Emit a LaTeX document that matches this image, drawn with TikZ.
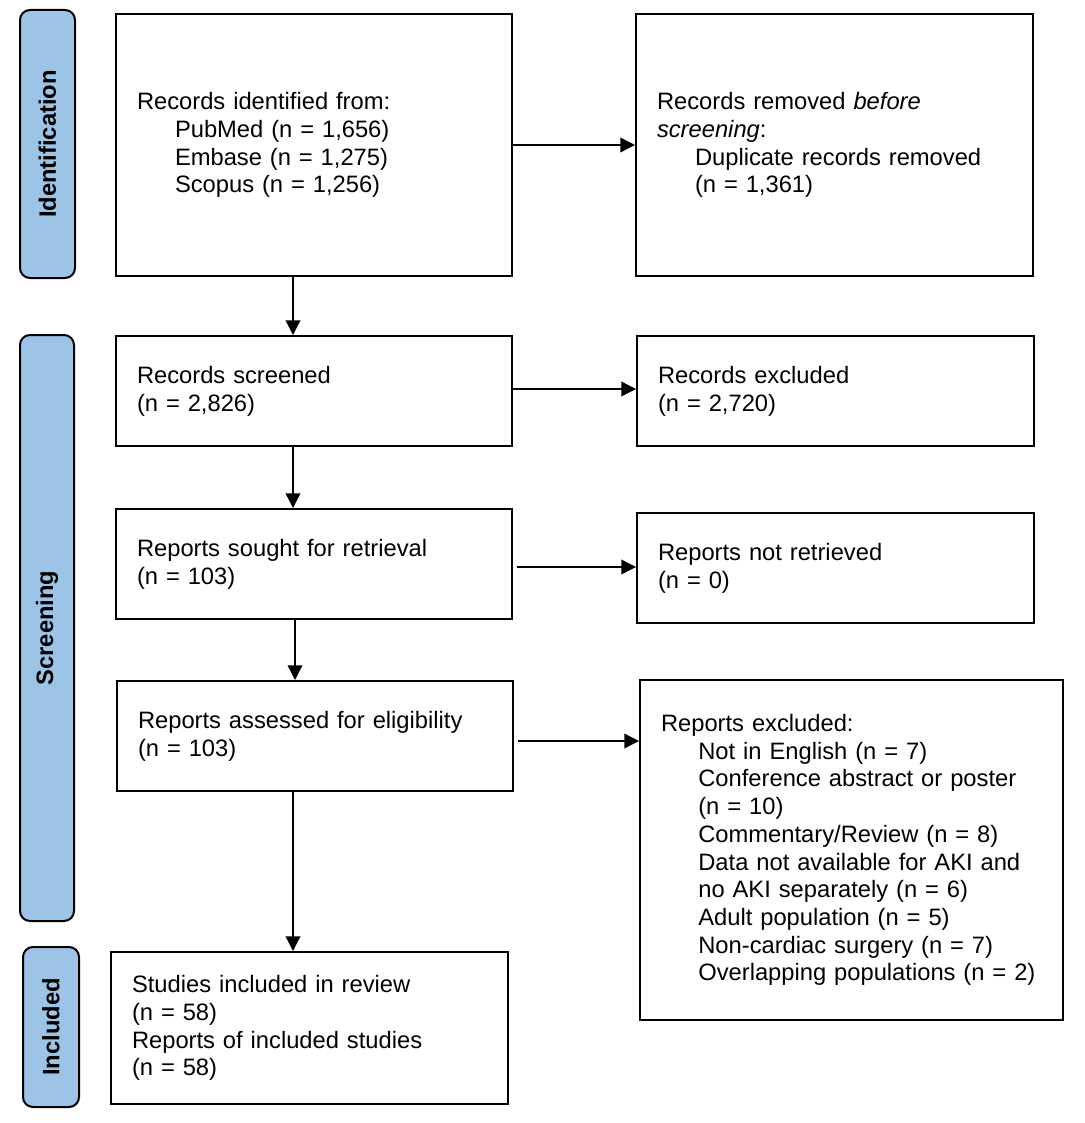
\documentclass[tikz,border=0pt]{standalone}
\usepackage{fontspec}
\setmainfont{Liberation Sans}
\usetikzlibrary{arrows.meta}
\definecolor{barblue}{RGB}{157,195,230}
\begin{document}
\begin{tikzpicture}[x=0.75pt,y=-0.75pt,
  box/.style={draw=black, line width=1.5pt, rectangle, align=left, inner xsep=15.75pt, inner ysep=0pt,
    font=\fontsize{17.8}{20.8}\selectfont, anchor=center},
  bar/.style={draw=black, line width=1.5pt, fill=barblue, rounded corners=7.5pt, rotate=90,
    font=\bfseries\fontsize{17.8}{20.8}\selectfont, inner sep=0pt, anchor=center},
  arr/.style={line width=1pt, -{Triangle[length=11pt,width=11pt]}}]
\useasboundingbox (0,0) rectangle (1084,1123);
% side bars
\node[bar, minimum width=201pt, minimum height=41.25pt] (identbar) at (47.5,144) {Identification};
\node[bar, minimum width=439.5pt, minimum height=40.5pt] (screenbar) at (47,628) {Screening};
\node[bar, minimum width=120pt, minimum height=42pt] (inclbar) at (51,1027) {Included};
% boxes
\node[box, text width=265.5pt, minimum height=196.5pt] (ident) at (314,145)
  {Records identified from:\\
   \hspace*{28.5pt}PubMed (n = 1,656)\\
   \hspace*{28.5pt}Embase (n = 1,275)\\
   \hspace*{28.5pt}Scopus (n = 1,256)};
\node[box, text width=266.25pt, minimum height=196.5pt] (removed) at (834.5,145)
  {Records removed \textit{before}\\
   \textit{screening}:\\
   \hspace*{28.5pt}Duplicate records removed\\
   \hspace*{28.5pt}(n = 1,361)};
\node[box, text width=265.5pt, minimum height=82.5pt] (screened) at (314,391)
  {Records screened\\(n = 2,826)};
\node[box, text width=266.25pt, minimum height=82.5pt] (recexcl) at (835.5,391)
  {Records excluded\\(n = 2,720)};
\node[box, text width=265.5pt, minimum height=82.5pt] (sought) at (314,564)
  {Reports sought for retrieval\\(n = 103)};
\node[box, text width=266.25pt, minimum height=82.5pt] (notret) at (835.5,568)
  {Reports not retrieved\\(n = 0)};
\node[box, text width=265.5pt, minimum height=82.5pt] (assessed) at (315,736)
  {Reports assessed for eligibility\\(n = 103)};
\node[box, text width=285.75pt, minimum height=255pt] (repexcl) at (851.5,850)
  {Reports excluded:\\
   \hspace*{28pt}Not in English (n = 7)\\
   \hspace*{28pt}Conference abstract or poster\\
   \hspace*{28pt}(n = 10)\\
   \hspace*{28pt}Commentary/Review (n = 8)\\
   \hspace*{28pt}Data not available for AKI and\\
   \hspace*{28pt}no AKI separately (n = 6)\\
   \hspace*{28pt}Adult population (n = 5)\\
   \hspace*{28pt}Non-cardiac surgery (n = 7)\\
   \hspace*{28pt}Overlapping populations (n = 2)};
\node[box, text width=266.25pt, minimum height=114pt] (included) at (309.5,1028)
  {Studies included in review\\(n = 58)\\Reports of included studies\\(n = 58)};
% connector guides
\coordinate (c1) at (293,0);
\coordinate (c2) at (295,0);
\coordinate (r1) at (0,145);
\coordinate (r2) at (0,389);
\coordinate (r3) at (0,567);
\coordinate (r4) at (0,741);
% vertical arrows
\draw[arr] (ident.south -| c1) -- (screened.north -| c1);
\draw[arr] (screened.south -| c1) -- (sought.north -| c1);
\draw[arr] (sought.south -| c2) -- (assessed.north -| c2);
\draw[arr] (assessed.south -| c1) -- (included.north -| c1);
% horizontal arrows
\draw[arr] (ident.east |- r1) -- (removed.west |- r1);
\draw[arr] (screened.east |- r2) -- (recexcl.west |- r2);
\draw[arr, shorten <=3pt] (sought.east |- r3) -- (notret.west |- r3);
\draw[arr, shorten <=3pt] (assessed.east |- r4) -- (repexcl.west |- r4);
\end{tikzpicture}
\end{document}
